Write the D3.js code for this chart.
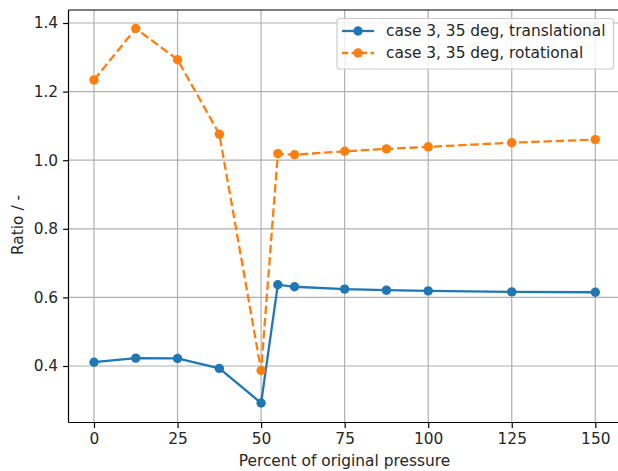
<!DOCTYPE html>
<html>
<head>
<meta charset="utf-8">
<script src="https://cdn.jsdelivr.net/npm/d3@7"></script>
<style>
  body { margin: 0; background: #fff; }
  text { font-family: "DejaVu Sans", sans-serif; fill: #262626; }
</style>
</head>
<body>
<div id="chart"></div>
<script>
// Data
var pressure = [0, 12.5, 25, 37.5, 50, 55, 60, 75, 87.5, 100, 125, 150];
var translational = [0.411, 0.423, 0.422, 0.393, 0.292, 0.637, 0.631, 0.624, 0.621, 0.619, 0.616, 0.615];
var rotational = [1.234, 1.384, 1.293, 1.076, 0.387, 1.019, 1.016, 1.026, 1.033, 1.039, 1.051, 1.060];
var xTicks = [0, 25, 50, 75, 100, 125, 150];
var yTicks = [0.4, 0.6, 0.8, 1.0, 1.2, 1.4];
var seriesNames = ["case 3, 35 deg, translational", "case 3, 35 deg, rotational"];

var svgWidth = 618;
var svgHeight = 471;
var fontSize = "15.4px";

// Plot area (right side of the axes is cut off like in the reference)
var plotLeft = 68.5, plotTop = 10, plotBottom = 422.5;

var svg = d3.select("#chart")
  .append("svg")
  .attr("width", svgWidth)
  .attr("height", svgHeight);

var xScale = d3.scaleLinear()
  .domain([0, 150])
  .range([94, 595.3]);

var yScale = d3.scaleLinear()
  .domain([0.4, 1.4])
  .range([366, 23]);

var plotRight = xScale(157.5);

// Grid lines
var grid = svg.append("g");
grid.selectAll(".gx")
  .data(xTicks)
  .enter()
  .append("line")
  .attr("x1", d => xScale(d)).attr("x2", d => xScale(d))
  .attr("y1", plotTop).attr("y2", plotBottom)
  .attr("stroke", "#b0b0b0")
  .attr("stroke-width", 1.2);
grid.selectAll(".gy")
  .data(yTicks)
  .enter()
  .append("line")
  .attr("x1", plotLeft).attr("x2", plotRight)
  .attr("y1", d => yScale(d)).attr("y2", d => yScale(d))
  .attr("stroke", "#b0b0b0")
  .attr("stroke-width", 1.2);

// Axes
var xAxis = d3.axisBottom(xScale)
  .tickValues(xTicks)
  .tickSize(5.4)
  .tickPadding(5)
  .tickFormat(d3.format("d"));
var yAxis = d3.axisLeft(yScale)
  .tickValues(yTicks)
  .tickSize(5.4)
  .tickPadding(5)
  .tickFormat(d3.format(".1f"));

var gx = svg.append("g")
  .attr("transform", `translate(0, ${plotBottom})`)
  .call(xAxis);
var gy = svg.append("g")
  .attr("transform", `translate(${plotLeft}, 0)`)
  .call(yAxis);

[gx, gy].forEach(function(g) {
  g.select(".domain").remove();
  g.selectAll(".tick line").attr("stroke", "#000").attr("stroke-width", 1.2);
  g.selectAll(".tick text")
    .attr("font-size", fontSize)
    .style("font-family", "DejaVu Sans, sans-serif")
    .attr("fill", "#262626");
});

// Spines
svg.append("line")
  .attr("x1", plotLeft).attr("x2", plotLeft)
  .attr("y1", plotTop).attr("y2", plotBottom)
  .attr("stroke", "#000").attr("stroke-width", 1.2);
svg.append("line")
  .attr("x1", plotLeft).attr("x2", plotRight)
  .attr("y1", plotBottom).attr("y2", plotBottom)
  .attr("stroke", "#000").attr("stroke-width", 1.2);
svg.append("line")
  .attr("x1", plotLeft).attr("x2", plotRight)
  .attr("y1", plotTop).attr("y2", plotTop)
  .attr("stroke", "#000").attr("stroke-width", 1.2);

// Lines and markers
var series = [
  { name: seriesNames[0], values: translational, color: "#1f77b4", dash: null },
  { name: seriesNames[1], values: rotational, color: "#ff7f0e", dash: "8.5,3.7" }
];

var line = d3.line()
  .x((d, i) => xScale(pressure[i]))
  .y(d => yScale(d));

series.forEach(function(s) {
  svg.append("path")
    .datum(s.values)
    .attr("d", line)
    .attr("fill", "none")
    .attr("stroke", s.color)
    .attr("stroke-width", 2.3)
    .attr("stroke-dasharray", s.dash);
  svg.append("g")
    .selectAll("circle")
    .data(s.values)
    .enter()
    .append("circle")
    .attr("cx", (d, i) => xScale(pressure[i]))
    .attr("cy", d => yScale(d))
    .attr("r", 4.7)
    .attr("fill", s.color);
});

// Legend
var legend = svg.append("g");
legend.append("rect")
  .attr("x", 337).attr("y", 18.5)
  .attr("width", 276.5).attr("height", 50.5)
  .attr("rx", 3)
  .attr("fill", "#fff").attr("fill-opacity", 0.8)
  .attr("stroke", "#cccccc").attr("stroke-width", 1.2);

series.forEach(function(s, i) {
  var ly = 31 + i * 22;
  legend.append("line")
    .attr("x1", 342).attr("x2", 374)
    .attr("y1", ly).attr("y2", ly)
    .attr("stroke", s.color)
    .attr("stroke-width", 2.3)
    .attr("stroke-dasharray", s.dash ? "6,3.5" : null);
  legend.append("circle")
    .attr("cx", 358).attr("cy", ly)
    .attr("r", 4.7)
    .attr("fill", s.color);
  legend.append("text")
    .text(s.name)
    .attr("x", 386)
    .attr("y", ly)
    .attr("dy", "0.35em")
    .attr("font-size", fontSize);
});

// Axis labels
svg.append("text")
  .text("Percent of original pressure")
  .attr("x", (plotLeft + plotRight) / 2)
  .attr("y", 466)
  .attr("text-anchor", "middle")
  .attr("font-size", fontSize);

svg.append("text")
  .text("Ratio / -")
  .attr("transform", "translate(23, 225) rotate(-90)")
  .attr("text-anchor", "middle")
  .attr("font-size", fontSize);
</script>
</body>
</html>
